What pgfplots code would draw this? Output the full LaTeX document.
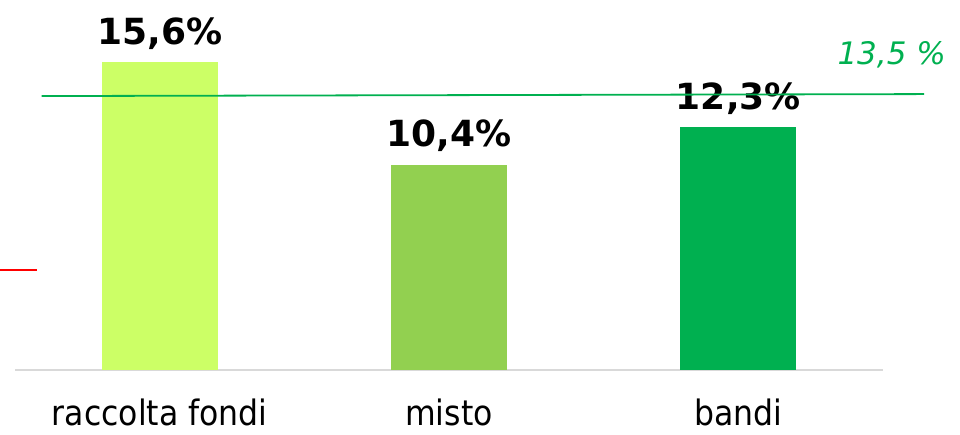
\documentclass[border=0pt]{standalone}
\usepackage{fontspec}
\setmainfont{DejaVu Sans}
\newfontfamily\cond{DejaVu Sans Condensed}
\usepackage{pgfplots}
\pgfplotsset{compat=1.18}
\definecolor{cLight}{HTML}{CCFF66}
\definecolor{cMid}{HTML}{92D050}
\definecolor{cDark}{HTML}{00B050}
\definecolor{cBase}{HTML}{D9D9D9}
\begin{document}
\begin{tikzpicture}
\useasboundingbox (0,0) rectangle (960pt,435pt);
\begin{axis}[
    at={(15pt,65pt)}, anchor=south west,
    scale only axis,
    width=868pt, height=316pt,
    xmin=-0.5, xmax=2.5,
    ymin=0, ymax=16,
    clip=false,
    axis x line*=bottom,
    hide y axis,
    x axis line style={cBase, line width=1.5pt, -},
    xtick={0,1,2},
    xticklabels={raccolta fondi, misto, bandi},
    xtick style={draw=none},
    xticklabel style={font=\cond\fontsize{35}{40}\selectfont, yshift=-21pt},
    ybar, bar width=116pt, bar shift=0pt,
    nodes near coords={\pgfmathprintnumber[fixed,fixed zerofill,precision=1,use comma,assume math mode=true]{\pgfplotspointmeta}\%},
    nodes near coords style={font=\bfseries\fontsize{36}{40}\selectfont, anchor=south, yshift=9pt, black},
]
\addplot[fill=cLight, draw=none] coordinates {(0,15.6)};
\addplot[fill=cMid, draw=none] coordinates {(1,10.4)};
\addplot[fill=cDark, draw=none] coordinates {(2,12.3)};
\end{axis}
\begin{axis}[
    at={(15pt,65pt)}, anchor=south west,
    scale only axis,
    width=868pt, height=316pt,
    xmin=-0.5, xmax=2.5,
    ymin=0, ymax=16,
    clip=false,
    hide axis,
]
\addplot[cDark, line width=1.8pt] coordinates {(-0.408,13.87) (2.642,13.97)};
\addplot[red, line width=1.8pt] coordinates {(-0.553,5.06) (-0.425,5.06)};
\node[cDark, font=\itshape\fontsize{31}{34}\selectfont] at (axis cs:2.53,15.95) {13,5 \%};
\end{axis}
\end{tikzpicture}
\end{document}
